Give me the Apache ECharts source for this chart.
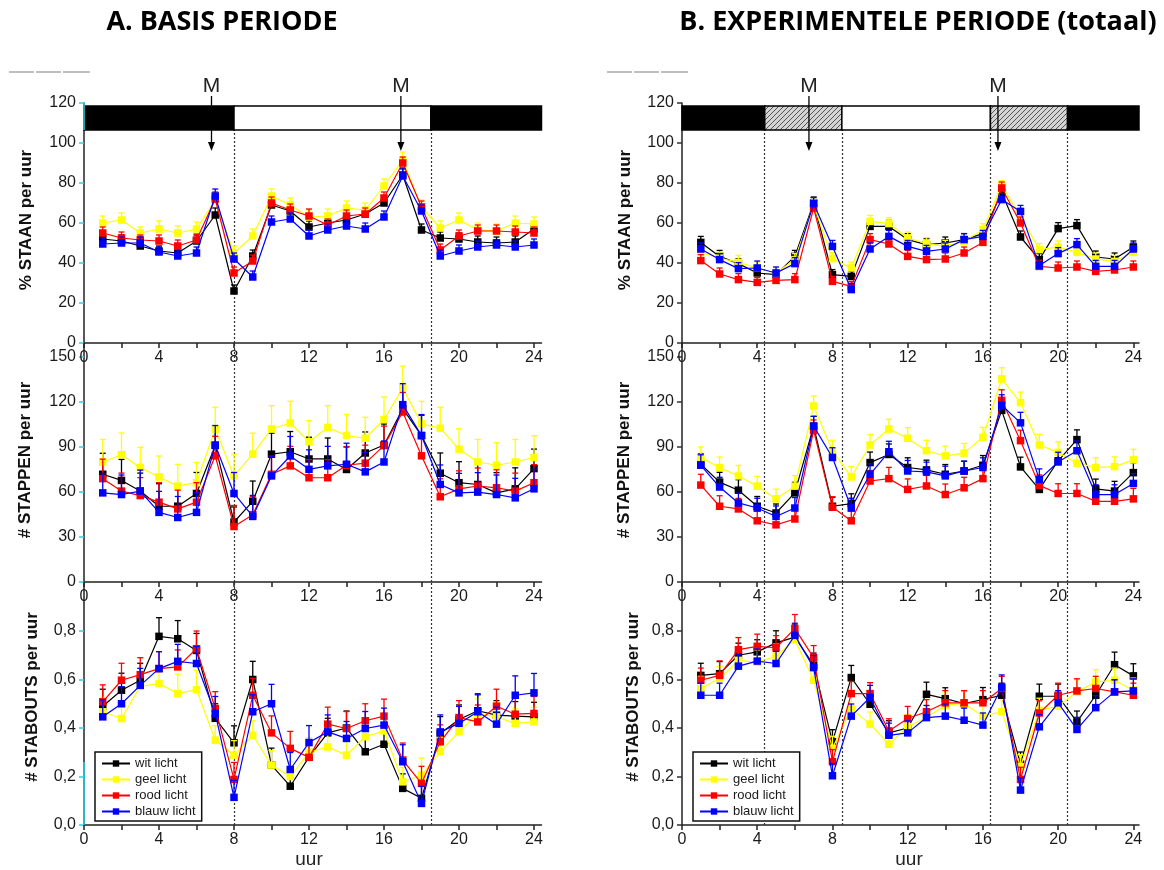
<!DOCTYPE html>
<html><head><meta charset="utf-8">
<script src="https://cdn.jsdelivr.net/npm/echarts@6/dist/echarts.min.js"></script>
<style>html,body{margin:0;padding:0;background:#fff}#c{width:1164px;height:870px}</style>
</head><body><div id="c"></div>
<script>
// ---------- categories / ticks ----------
const hours = [1,2,3,4,5,6,7,8,9,10,11,12,13,14,15,16,17,18,19,20,21,22,23,24];
const xTickValues = [0,2,4,6,8,10,12,14,16,18,20,22,24];
const xLabelValues = [0,4,8,12,16,20,24];
const staanTicks = [0,20,40,60,80,100,120];
const stappenTicks = [0,30,60,90,120,150];
const staboutsTicks = [0,0.2,0.4,0.6,0.8];
const seriesNames = ['wit licht','geel licht','rood licht','blauw licht'];
const seriesColors = ['#000000','#ffff00','#ff0000','#0000ff'];
const titleA = 'A. BASIS PERIODE';
const titleB = 'B. EXPERIMENTELE PERIODE (totaal)';
const yTitles = ['% STAAN per uur','# STAPPEN per uur','# STABOUTS per uur'];
const xTitle = 'uur';
// light schedule: [start, end, kind] kind 0=dark 1=light 2=twilight
const phasesA = [[0,8,0],[8,18.5,1],[18.5,24.4,0]];
const phasesB = [[0,4.4,0],[4.4,8.5,2],[8.5,16.4,1],[16.4,20.5,2],[20.5,24.3,0]];
const boundsA = [8,18.5];
const boundsB = [4.4,8.5,16.4,20.5];
const mealA = [6.8,16.9];
const mealB = [6.75,16.8];

// ---------- A: % STAAN ----------
const A_staan_wit   = [52,51,48.5,46,45,51,64,26,43.5,69,66,58,60,61.5,64.5,70,84,56.5,52.5,52,50.5,50,50.5,57];
const A_staan_geel  = [60,61.5,55,57,55,57,71.5,45,53.5,73.5,69,63,63.5,67.5,66.5,78.5,91.5,68,57.5,61.5,56.5,56,60,59.5];
const A_staan_rood  = [55,52.5,51.5,51,48.5,51.5,72,35,41,70,66.5,63.5,59,63.5,64.5,72.5,90,68,46.5,53.5,56,56,55.5,55];
const A_staan_blauw = [49.5,50,50,45.5,43.5,45,73.5,42,33,60.5,62,53.5,56.5,58.5,57,63,83.5,66,43.5,46,48,49,48,49];
const A_staan_err_wit   = [2.5,3,2.5,2.5,2.5,3,3.5,3,3,3,3,3,3,3,3,3,3.5,3,3,3,3,3,3,3.5];
const A_staan_err_geel  = [3.5,3.5,3,4,3.5,3.5,4,3.5,3.5,3.5,3.5,3.5,3.5,3.5,3.5,3.5,4,3.5,3.5,3.5,3.5,3.5,3.5,3.5];
const A_staan_err_rood  = [3,3,2.5,3,3,3,3.5,3,3,3,3,3.5,3,3,3,3,3,3,3,3,3,3,3,3];
const A_staan_err_blauw = [3,3,3,2.5,2.5,3,3.5,3,3,3,3,3,3,3,3,3,3.5,3,3,3,3,2.5,3,3];
// ---------- A: # STAPPEN ----------
const A_stappen_wit   = [71.8,67.7,60.6,50.5,50.5,59,91,40,53.8,85.2,86.8,82,82,75,86,91.3,115.5,97.6,72.5,66.2,65,59.4,62.1,75.6];
const A_stappen_geel  = [80,84.8,76.3,70,63.9,66.2,102,70.7,85.2,102,106,93.5,103,97.6,95.8,108.3,129.4,105.4,102.5,88.6,80,77.8,80,83];
const A_stappen_rood  = [68.9,60.6,57.6,53.2,48.7,53.2,84.1,37,44.9,71.8,77.4,69.5,69.5,77.8,79.2,90.9,113.3,84.1,56.8,62.1,64,62.8,60.6,66.2];
const A_stappen_blauw = [59.4,58.3,60.6,46.4,43,46.4,91.3,59,43.7,70.7,84,75.1,77.4,78.5,73.4,80,118.2,97.6,65,59.4,59.9,58.3,56.1,62.1];
const A_stappen_err_wit   = [14,14,12,15,12,14,12,10,13.5,14,13.5,14.5,14,15,14,14,13,13.5,13.5,14,14,13.5,14,13];
const A_stappen_err_geel  = [15,14.5,13.5,14,14.5,13.5,14.5,14.5,14,15.5,14.5,14,14.5,14,14,15,14.5,15,14,13.5,15,15,15,14.5];
const A_stappen_err_rood  = [13,12,12,13,12.5,13,13,14,12,12,13,12,12,12.5,12,13,13,12,12,12,12,12,12,12];
const A_stappen_err_blauw = [13,13,14,14,14,13,13,14,14,13,13,13,13,14,13,14,14,14,13,13,13,13,13,13];
// ---------- A: # STABOUTS ----------
const A_stab_wit   = [0.49,0.556,0.597,0.778,0.768,0.72,0.44,0.339,0.6,0.247,0.16,0.28,0.38,0.4,0.302,0.333,0.151,0.11,0.377,0.435,0.471,0.453,0.449,0.446];
const A_stab_geel  = [0.467,0.439,0.572,0.583,0.542,0.558,0.35,0.288,0.37,0.247,0.2,0.3,0.322,0.288,0.364,0.388,0.178,0.206,0.302,0.384,0.46,0.446,0.419,0.425];
const A_stab_rood  = [0.508,0.597,0.62,0.645,0.652,0.727,0.48,0.188,0.535,0.38,0.316,0.279,0.416,0.398,0.43,0.449,0.268,0.172,0.343,0.443,0.425,0.49,0.457,0.46];
const A_stab_blauw = [0.446,0.5,0.576,0.645,0.675,0.666,0.46,0.114,0.467,0.5,0.229,0.34,0.384,0.357,0.398,0.412,0.261,0.089,0.384,0.419,0.467,0.416,0.535,0.545];
const A_stab_err_wit   = [0.07,0.07,0.07,0.077,0.075,0.07,0.06,0.07,0.075,0.07,0.06,0.06,0.06,0.07,0.07,0.06,0.06,0.06,0.07,0.06,0.07,0.06,0.06,0.06];
const A_stab_err_geel  = [0.06,0.06,0.06,0.06,0.08,0.08,0.06,0.06,0.06,0.06,0.06,0.06,0.06,0.06,0.06,0.06,0.06,0.07,0.06,0.06,0.06,0.06,0.06,0.06];
const A_stab_err_rood  = [0.07,0.07,0.07,0.07,0.07,0.073,0.07,0.07,0.07,0.07,0.07,0.07,0.07,0.07,0.07,0.07,0.07,0.07,0.07,0.07,0.07,0.07,0.07,0.07];
const A_stab_err_blauw = [0.07,0.07,0.07,0.07,0.07,0.07,0.07,0.07,0.07,0.08,0.07,0.07,0.07,0.07,0.07,0.07,0.07,0.07,0.07,0.07,0.07,0.07,0.08,0.08];

// ---------- B: % STAAN ----------
const B_staan_wit   = [50.3,43.3,39.7,35,34.2,43.3,70,34.2,33.3,58.3,58.3,51.7,49.2,50,51.7,54.7,75.3,53,41.7,57.2,58.7,43,42,48];
const B_staan_geel  = [45.3,42.5,40.3,37.5,35,41.7,69,42.2,37.5,60.8,59.7,52.5,49.7,48.3,50.8,56.7,78.7,63.3,46.7,48,45.3,42,40.8,45.3];
const B_staan_rood  = [41.2,34.5,31.7,30.3,31.3,31.7,67.5,30.8,28.3,51.7,49.5,43.3,41.7,42,45,50.3,77.5,60,38.3,37.5,38,35.8,36.5,38];
const B_staan_blauw = [47,41.7,37.2,37.5,35,39.7,69.7,48.3,26.7,47,53.3,48.3,45.8,47,51.7,53.3,71.7,65.8,38.7,44.7,49.2,38.3,38.3,47];
const B_staan_err_wit   = [3,3,2.5,2.5,2.5,3,3,2.5,2.5,3,3,3,3,3,3,3,3,3,3,3,3,3,3,3];
const B_staan_err_geel  = [3,3,3.5,3,3,3,3,3,3,3,3,3,3,3,3,3,2.5,3,3,3,3,3,3,3];
const B_staan_err_rood  = [3,3,3,2.5,2.5,3,3,2.5,2.5,3,2.5,3,3,3,3,3,3,3,3,3,3,3,3,3];
const B_staan_err_blauw = [3,3,3,3.5,3,3,3,3,3,3,3,3,3,3,3,3,3,3,3,3,3,3,3,3];
// ---------- B: # STAPPEN ----------
const B_stappen_wit   = [78.5,66.6,61.2,50.5,46,59.4,103.9,50.5,52.3,79.6,85,76.3,74.7,71.8,74,77.8,114.4,76.7,61.7,80.8,94.9,62.1,60.6,72.9];
const B_stappen_geel  = [83,76.3,70.7,63.9,55.4,63.9,117.3,87.5,70,91.3,102,95.8,87.5,84.1,85.9,96.5,135.3,119.6,91.3,86.4,79.2,76.3,76.9,81.4];
const B_stappen_rood  = [64.6,50.5,48.7,40.8,38.1,42,101,49.8,40.8,67.3,68.9,61.7,64,58.3,62.8,68.9,121.1,94.2,64.4,59,59,53.8,53.8,55.4];
const B_stappen_blauw = [77.8,63.3,52.7,49.3,43.7,49.3,103.9,83,49.3,71.8,86.8,74,73.4,70.7,74,76.3,117.8,106.1,68.4,80,87.5,58.3,58.3,65.7];
const B_stappen_err_wit   = [7,6.5,7,6.5,6,7,6.5,6,6.5,7,7,6.5,6.5,6.5,6.5,6.5,7,6.5,6.5,6.5,6.5,6.5,6.5,6.5];
const B_stappen_err_geel  = [7,7,7,6.5,6.5,7,6.7,7,7,7,6.5,7,7,6.5,6.5,6.5,7.5,7,7,7,6.5,6.5,6.5,7];
const B_stappen_err_rood  = [7.2,7,7,6.5,6.5,6.5,7,7,6.5,7,7.5,7,7,7,7,7,7,7,7,6.5,6.5,6.5,6.5,7];
const B_stappen_err_blauw = [7,6.5,6.5,6.5,7,7,6.5,6.5,6.5,7,7,7,6.5,6.5,6.5,6.5,7,7,7,6.5,6.5,6.5,6.5,6.5];
// ---------- B: # STABOUTS ----------
const B_stab_wit   = [0.617,0.624,0.7,0.714,0.751,0.775,0.659,0.343,0.608,0.498,0.38,0.4,0.539,0.521,0.501,0.517,0.535,0.251,0.531,0.531,0.425,0.535,0.661,0.615];
const B_stab_geel  = [0.563,0.604,0.679,0.672,0.696,0.764,0.597,0.316,0.48,0.416,0.333,0.405,0.443,0.494,0.501,0.449,0.467,0.24,0.473,0.49,0.549,0.59,0.597,0.556];
const B_stab_rood  = [0.597,0.617,0.723,0.737,0.731,0.81,0.69,0.261,0.542,0.542,0.388,0.439,0.467,0.504,0.504,0.504,0.563,0.188,0.462,0.535,0.553,0.563,0.549,0.535];
const B_stab_blauw = [0.535,0.535,0.655,0.676,0.666,0.782,0.649,0.203,0.449,0.526,0.37,0.38,0.443,0.449,0.432,0.412,0.569,0.144,0.405,0.504,0.394,0.484,0.549,0.553];
const B_stab_err_wit   = [0.05,0.05,0.05,0.05,0.05,0.05,0.05,0.05,0.05,0.05,0.05,0.05,0.05,0.045,0.05,0.05,0.05,0.05,0.05,0.05,0.045,0.05,0.052,0.05];
const B_stab_err_geel  = [0.05,0.05,0.05,0.05,0.05,0.05,0.05,0.05,0.05,0.05,0.05,0.05,0.05,0.05,0.05,0.05,0.05,0.05,0.05,0.05,0.05,0.05,0.05,0.05];
const B_stab_err_rood  = [0.05,0.06,0.05,0.05,0.05,0.058,0.05,0.05,0.05,0.045,0.05,0.05,0.05,0.05,0.05,0.05,0.05,0.05,0.05,0.05,0.05,0.05,0.05,0.05];
const B_stab_err_blauw = [0.05,0.05,0.05,0.05,0.05,0.05,0.05,0.05,0.05,0.05,0.05,0.05,0.05,0.05,0.05,0.05,0.05,0.05,0.05,0.05,0.05,0.05,0.05,0.05];

// ---------- layout ----------
const FONT = '"Liberation Sans", Arial, sans-serif';
const TXT = '#1a1a1a';
const colsX = [{left:84, width:457.5, max:24.4, tickColor:'#22d3e6'}, {left:682, width:457, max:24.3, tickColor:'#333'}];
const rowsY = [{top:103, height:240, max:120, ticks:staanTicks, fmt:v=>String(v)},
               {top:343, height:239, max:159.3, ticks:stappenTicks, fmt:v=>String(v)},
               {top:583, height:242, max:0.998, ticks:staboutsTicks, fmt:v=>v.toFixed(1).replace('.',',')}];
const panels = [
  {c:0,r:0, vals:[A_staan_wit,A_staan_geel,A_staan_rood,A_staan_blauw], errs:[A_staan_err_wit,A_staan_err_geel,A_staan_err_rood,A_staan_err_blauw]},
  {c:0,r:1, vals:[A_stappen_wit,A_stappen_geel,A_stappen_rood,A_stappen_blauw], errs:[A_stappen_err_wit,A_stappen_err_geel,A_stappen_err_rood,A_stappen_err_blauw]},
  {c:0,r:2, vals:[A_stab_wit,A_stab_geel,A_stab_rood,A_stab_blauw], errs:[A_stab_err_wit,A_stab_err_geel,A_stab_err_rood,A_stab_err_blauw]},
  {c:1,r:0, vals:[B_staan_wit,B_staan_geel,B_staan_rood,B_staan_blauw], errs:[B_staan_err_wit,B_staan_err_geel,B_staan_err_rood,B_staan_err_blauw]},
  {c:1,r:1, vals:[B_stappen_wit,B_stappen_geel,B_stappen_rood,B_stappen_blauw], errs:[B_stappen_err_wit,B_stappen_err_geel,B_stappen_err_rood,B_stappen_err_blauw]},
  {c:1,r:2, vals:[B_stab_wit,B_stab_geel,B_stab_rood,B_stab_blauw], errs:[B_stab_err_wit,B_stab_err_geel,B_stab_err_rood,B_stab_err_blauw]}
];

// hatch pattern
const hatch = document.createElement('canvas');
hatch.width = 5; hatch.height = 5;
(function(){const g=hatch.getContext('2d');g.fillStyle='#d4d4d4';g.fillRect(0,0,5,5);
 g.strokeStyle='#555';g.lineWidth=1;g.beginPath();g.moveTo(0,5);g.lineTo(5,0);g.moveTo(-1,1);g.lineTo(1,-1);g.moveTo(4,6);g.lineTo(6,4);g.stroke();})();

const grid=[], xAxis=[], yAxis=[], series=[];
panels.forEach((p,i)=>{
  const C=colsX[p.c], R=rowsY[p.r];
  grid.push({left:C.left, top:R.top, width:C.width, height:R.height, containLabel:false});
  xAxis.push({type:'value', gridIndex:i, min:0, max:C.max, interval:2, splitLine:{show:false},
    axisLine:{show:true, onZero:false, lineStyle:{color:'#222', width:1.5}},
    axisTick:{show:true, inside:false, length:5, customValues:xTickValues, lineStyle:{color:'#222', width:1.5}},
    axisLabel:{show:true, margin:7, customValues:xLabelValues, fontSize:16, fontFamily:FONT, color:TXT}});
  yAxis.push({type:'value', gridIndex:i, min:0, max:R.max, splitLine:{show:false},
    axisLine:{show:true, onZero:false, lineStyle:{color:'#222', width:1.5}},
    axisTick:{show:true, inside:false, length:5, customValues:R.ticks, lineStyle:{color:C.tickColor, width:1.5}},
    axisLabel:{show:true, margin:8, customValues:R.ticks, formatter:R.fmt, fontSize:16, fontFamily:FONT, color:TXT}});
  const bounds = p.c===0 ? boundsA : boundsB;
  p.vals.forEach((vals,k)=>{
    const col = seriesColors[k];
    series.push({type:'custom', xAxisIndex:i, yAxisIndex:i, silent:true, z:2+k,
      data: hours.map((h,j)=>[h, vals[j], p.errs[k][j]]),
      renderItem:(params,api)=>{
        const a=api.coord([api.value(0),api.value(1)]), b=api.coord([api.value(0),api.value(1)+api.value(2)]);
        return {type:'group', children:[
          {type:'line', shape:{x1:a[0],y1:a[1],x2:b[0],y2:b[1]}, style:{stroke:col, lineWidth:1.3}},
          {type:'line', shape:{x1:b[0]-3,y1:b[1],x2:b[0]+3,y2:b[1]}, style:{stroke:col, lineWidth:1.3}}]};
      }});
    const s = {type:'line', name:seriesNames[k], xAxisIndex:i, yAxisIndex:i, z:2+k,
      data: hours.map((h,j)=>[h, vals[j]]), symbol:'rect', symbolSize:7.5,
      itemStyle:{color:col}, lineStyle:{color:col, width:1.2}, emphasis:{disabled:true}};
    if(k===0){
      s.markLine = {silent:true, symbol:'none', z:1, label:{show:false},
        lineStyle:{type:[2,2], color:'#333', width:1.2},
        data: p.r===0 ? bounds.map(v=>[{coord:[v,0]},{coord:[v,106.5]}]) : bounds.map(v=>({xAxis:v}))};
    }
    series.push(s);
  });
  if(p.r===0){
    const phases = p.c===0 ? phasesA : phasesB;
    series.push({type:'custom', xAxisIndex:i, yAxisIndex:i, silent:true, z:10, clip:false,
      data: phases,
      renderItem:(params,api)=>{
        const a=api.coord([api.value(0),118.5]), b=api.coord([api.value(1),106.5]);
        const kind=api.value(2);
        const fill = kind===0 ? '#000' : kind===1 ? '#fff' : {image:hatch, repeat:'repeat'};
        return {type:'rect', shape:{x:a[0],y:a[1],width:b[0]-a[0],height:b[1]-a[1]}, style:{fill:fill, stroke:'#000', lineWidth:1.5}};
      }});
    const meals = p.c===0 ? mealA : mealB;
    series.push({type:'custom', xAxisIndex:i, yAxisIndex:i, silent:true, z:12, clip:false,
      data: meals.map(m=>[m,0]),
      renderItem:(params,api)=>{
        const x=api.coord([api.value(0),0])[0];
        return {type:'group', children:[
          {type:'text', style:{text:'M', x:x, y:86, align:'center', verticalAlign:'middle', font:'21px '+FONT, fill:'#222'}},
          {type:'line', shape:{x1:x,y1:96,x2:x,y2:144}, style:{stroke:'#000', lineWidth:1.3}},
          {type:'polygon', shape:{points:[[x-3.5,142],[x+3.5,142],[x,151]]}, style:{fill:'#000'}}]};
      }});
  }
});

const legendBase = {orient:'vertical', data:seriesNames, itemWidth:28, itemHeight:8, itemGap:3, padding:[5,6,3,6],
  borderColor:'#111', borderWidth:1.5, selectedMode:false, backgroundColor:'#fff',
  textStyle:{fontSize:13, fontFamily:FONT, color:TXT, lineHeight:13}};
const legend = [Object.assign({left:95, top:752}, legendBase), Object.assign({left:693, top:752}, legendBase)];

function vtext(x,y,t){return {type:'text', x:x, y:y, rotation:Math.PI/2, style:{text:t, font:'bold 17px '+FONT, fill:'#111', align:'center', verticalAlign:'middle'}};}
function seg(x1,y1,x2,y2,c){return {type:'line', shape:{x1,y1,x2,y2}, style:{stroke:c, lineWidth:1.5}, z:100};}
const TFONT = 'bold 27px "Open Sans", sans-serif';
const graphic = [
  {type:'text', x:222, y:22, style:{text:titleA, font:TFONT, fill:'#000', align:'center', verticalAlign:'middle'}},
  {type:'text', x:918, y:22, style:{text:titleB, font:TFONT, fill:'#000', align:'center', verticalAlign:'middle'}},
  vtext(26,220,yTitles[0]), vtext(25,460,yTitles[1]), vtext(32,697,yTitles[2]),
  vtext(625,220,yTitles[0]), vtext(624,460,yTitles[1]), vtext(633,697,yTitles[2]),
  {type:'text', x:309, y:860, style:{text:xTitle, font:'19px '+FONT, fill:'#222', align:'center', verticalAlign:'middle'}},
  {type:'text', x:909, y:860, style:{text:xTitle, font:'19px '+FONT, fill:'#222', align:'center', verticalAlign:'middle'}},
  seg(9,72,34,72,'#aaa'), seg(36,72,61,72,'#aaa'), seg(63,72,90,72,'#aaa'),
  seg(607,72,632,72,'#aaa'), seg(634,72,659,72,'#aaa'), seg(661,72,688,72,'#aaa'),
  seg(84,103,84,130,'#22d3e6'), seg(84,762,84,825,'#22d3e6')
];

const chart = echarts.init(document.getElementById('c'), null, {renderer:'canvas'});
chart.setOption({animation:false, backgroundColor:'#fff', grid, xAxis, yAxis, series, legend, graphic});
</script></body></html>
